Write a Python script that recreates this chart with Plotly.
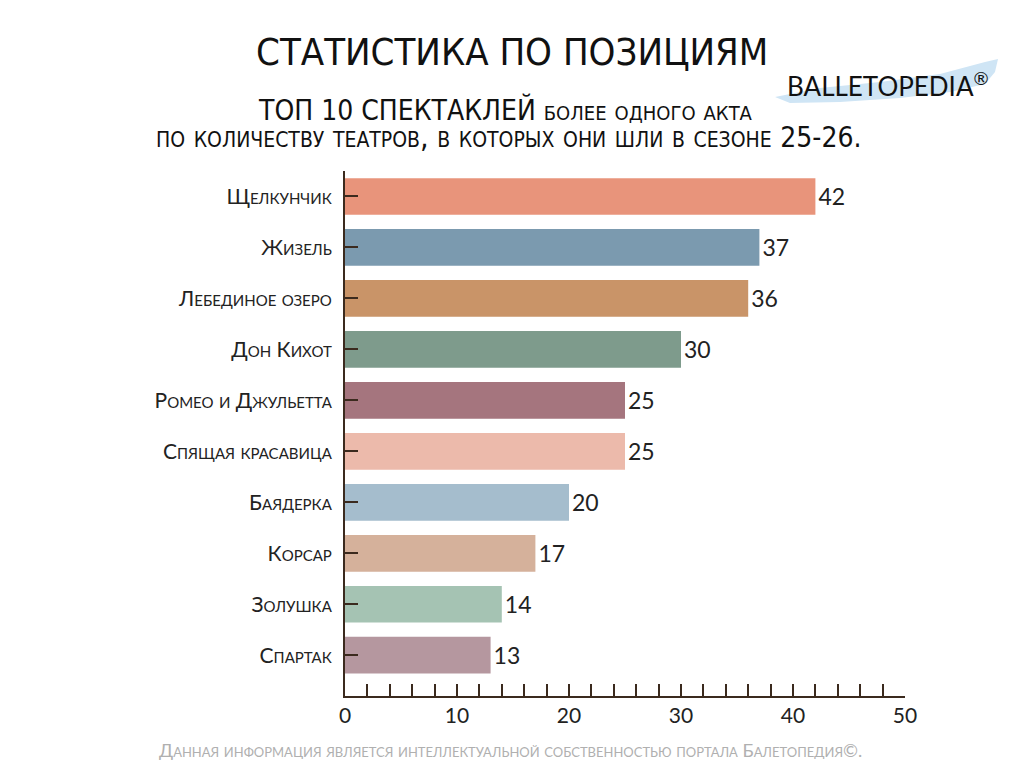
import plotly.graph_objects as go

# Data
ballets = ["Щелкунчик", "Жизель", "Лебединое озеро", "Дон Кихот", "Ромео и Джульетта",
           "Спящая красавица", "Баядерка", "Корсар", "Золушка", "Спартак"]
theatres = [42, 37, 36, 30, 25, 25, 20, 17, 14, 13]
colors = ["#E8947B", "#7B9AAF", "#C99468", "#7E9B8C", "#A5757E",
          "#ECBAAB", "#A5BDCD", "#D5B19B", "#A5C3B3", "#B5979F"]
x_labels = [0, 10, 20, 30, 40, 50]

axis_color = "#3b2a1e"
font_main = "Lato, Noto Sans, sans-serif"
font_title = "DejaVu Sans Condensed, Liberation Sans Narrow, sans-serif"

# the page body adds an 8px margin, so the figure is drawn 8px in
OFF = 8
W, H = 1024 - OFF, 768 - OFF
# plot area in screen pixels
L, R, T, B = 345, 905, 171, 696


def px(x, y):
    return (x - L) / (R - L), (B - y) / (B - T)


fig = go.Figure(go.Bar(
    x=theatres, y=ballets, orientation="h",
    marker=dict(color=colors, line=dict(width=0)),
    width=0.72,
    text=theatres, textposition="outside", cliponaxis=False,
    textfont=dict(family=font_main, size=23, color="#222"),
))

fig.update_layout(
    width=W, height=H,
    margin=dict(l=L - OFF, r=1024 - R, t=T - OFF, b=768 - B),
    plot_bgcolor="white", paper_bgcolor="white",
    showlegend=False,
    font=dict(family=font_main, color="#222"),
)

fig.update_xaxes(
    range=[0, 50], tickvals=x_labels, showgrid=False, zeroline=False,
    showline=True, linecolor=axis_color, linewidth=2,
    ticks="inside", ticklen=12, tickwidth=2, tickcolor=axis_color,
    minor=dict(dtick=2, ticks="inside", ticklen=12, tickwidth=2, tickcolor=axis_color),
    tickfont=dict(family=font_main, size=21, color="#222"),
)
fig.update_yaxes(
    range=[9.8, -0.5], showgrid=False, zeroline=False,
    showline=True, linecolor=axis_color, linewidth=2,
    ticks="inside", ticklen=13, tickwidth=2, tickcolor=axis_color,
    tickfont=dict(family=font_main, size=21, color="#222", variant="small-caps"),
    ticklabelstandoff=7,
)


def note(text, x, y, **font):
    fig.add_annotation(text=text, xref="paper", yref="paper",
                       x=px(x, 0)[0], y=px(0, y)[1], xanchor="center", yanchor="middle",
                       showarrow=False, font=font)


# Titles
note("СТАТИСТИКА ПО ПОЗИЦИЯМ", 512, 52, family=font_title, size=38, color="#111")
note("ТОП 10 СПЕКТАКЛЕЙ более одного акта", 505, 110,
     family=font_title, size=28, color="#111", variant="small-caps")
note("по количеству театров, в которых они шли в сезоне <span style='font-size:28px'>25-26.</span>",
     508, 137, family=font_title, size=30, color="#111", variant="small-caps")

# Logo: light blue swoosh behind the name
swoosh = [(775, 97), (820, 88), (880, 82), (940, 74), (985, 62), (998, 59),
          (995, 72), (985, 84), (950, 92), (900, 98), (840, 102), (790, 103)]
path = "M " + " L ".join(f"{px(a, b)[0]:.4f},{px(a, b)[1]:.4f}" for a, b in swoosh) + " Z"
fig.add_shape(type="path", path=path, xref="paper", yref="paper",
              fillcolor="#cfe5f5", line=dict(width=0), layer="below")
note("BALLETOPEDIA<sup>®</sup>", 888, 84, family=font_main, size=26, color="#111")

# Footer
note("Данная информация является интеллектуальной собственностью портала Балетопедия©.",
     510, 750, family=font_main, size=18, color="#b0b0b0", variant="small-caps")

fig.write_html("out.html")
